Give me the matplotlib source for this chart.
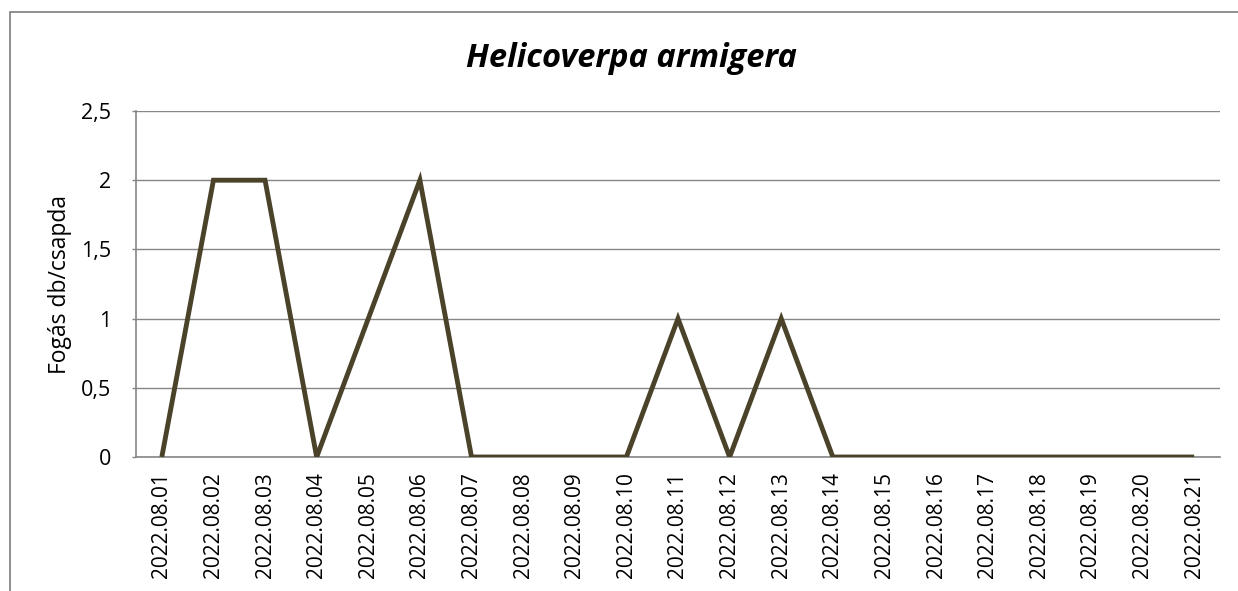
import matplotlib
matplotlib.use('Agg')
import matplotlib.pyplot as plt
from matplotlib.patches import Rectangle

plt.rcParams['font.family'] = ['Open Sans', 'DejaVu Sans']

dates = [
    '2022.08.01', '2022.08.02', '2022.08.03', '2022.08.04', '2022.08.05',
    '2022.08.06', '2022.08.07', '2022.08.08', '2022.08.09', '2022.08.10',
    '2022.08.11', '2022.08.12', '2022.08.13', '2022.08.14', '2022.08.15',
    '2022.08.16', '2022.08.17', '2022.08.18', '2022.08.19', '2022.08.20',
    '2022.08.21',
]
catches = [0, 2, 2, 0, 1, 2, 0, 0, 0, 0, 1, 0, 1, 0, 0, 0, 0, 0, 0, 0, 0]
y_ticks = [0, 0.5, 1, 1.5, 2, 2.5]
y_tick_labels = ['0', '0,5', '1', '1,5', '2', '2,5']

W, H = 1238, 591
fig = plt.figure(figsize=(W / 100, H / 100), dpi=100)
ax = fig.add_axes([136 / W, 1 - 457 / H, (1220 - 136) / W, (457 - 111) / H])

grid_col = '#868686'
x = list(range(len(dates)))
ax.plot(x, catches, color='#4a4229', linewidth=3.5, solid_joinstyle='miter',
        solid_capstyle='butt', zorder=3)

ax.set_xlim(-0.5, len(dates) - 0.5)
ax.set_ylim(0, 2.5)
ax.set_yticks(y_ticks)
ax.set_yticklabels(y_tick_labels)
ax.set_xticks(x)
ax.set_xticklabels(dates, rotation=90)
ax.tick_params(axis='x', length=0, pad=11, labelsize=15)
ax.tick_params(axis='y', length=3, width=1, color=grid_col, pad=15,
               labelsize=15.5)
ax.yaxis.grid(True, color=grid_col, linewidth=1)
ax.set_axisbelow(True)
for side in ['top', 'right']:
    ax.spines[side].set_visible(False)
for side in ['left', 'bottom']:
    ax.spines[side].set_color(grid_col)
    ax.spines[side].set_linewidth(1.2)

ax.set_ylabel('Fogás db/csapda', fontsize=16.5)
ax.yaxis.set_label_coords(-(136 - 72) / (1220 - 136), 0.5)

fig.text(631 / W, 1 - 67 / H, 'Helicoverpa armigera', ha='center',
         va='baseline', fontsize=23.5, fontweight='bold', fontstyle='italic')

fig.patches.append(Rectangle((10 / W, -0.2), 2, 1.2 - 12 / H,
                             transform=fig.transFigure, fill=False,
                             edgecolor=grid_col, linewidth=1.3))

fig.savefig('out.png', dpi=100)
